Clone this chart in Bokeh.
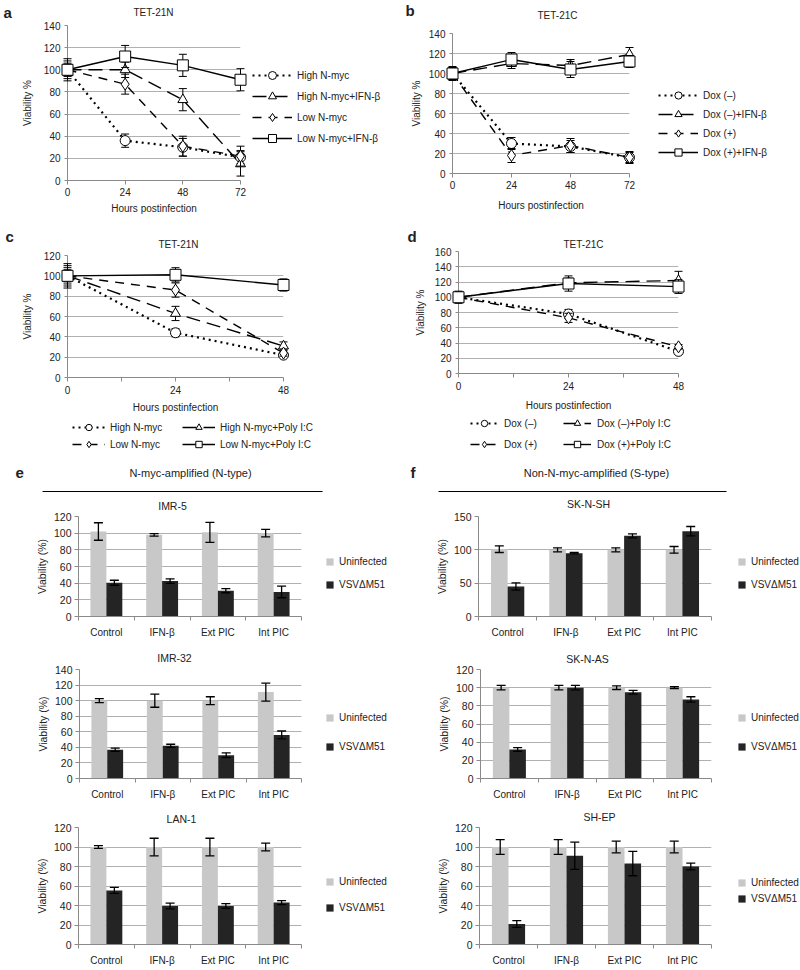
from bokeh.plotting import figure
from bokeh.models import (Range1d, FixedTicker, Legend, LegendItem, Label, Whisker,
                          TeeHead, ColumnDataSource)
from bokeh.layouts import column, row
from bokeh.transform import dodge
from bokeh.core.properties import value
from bokeh.embed import file_html
from bokeh.resources import INLINE

NAN = float("nan")

# ---------------- data ----------------
HOURS_72 = [0, 24, 48, 72]
HOURS_48 = [0, 24, 48]

# panel a : TET-21N, IFN-beta
A_LABELS = ["High N-myc", "High N-myc+IFN-β", "Low N-myc", "Low N-myc+IFN-β"]
A_HIGH = [100, 36, 30, 21]
A_HIGH_ERR = [8, 6, 8, 6]
A_HIGH_IFN = [100, 100, 73, 15]
A_HIGH_IFN_ERR = [6, 7, 10, 11]
A_LOW = [100, 87, 31, 22]
A_LOW_ERR = [10, 9, 9, 9]
A_LOW_IFN = [100, 112, 104, 91]
A_LOW_IFN_ERR = [5, 10, 10, 10]

# panel b : TET-21C, IFN-beta
B_LABELS = ["Dox (–)", "Dox (–)+IFN-β", "Dox (+)", "Dox (+)+IFN-β"]
B_DM = [100, 30, 27, 16]
B_DM_ERR = [5, 6, 6, 6]
B_DM_IFN = [100, 110, 108, 119]
B_DM_IFN_ERR = [6, 5, 6, 7]
B_DP = [100, 18, 28, 16]
B_DP_ERR = [6, 7, 7, 5]
B_DP_IFN = [100, 114, 104, 112]
B_DP_IFN_ERR = [7, 7, 8, 6]

# panel c : TET-21N, Poly I:C
C_LABELS = ["High N-myc", "High N-myc+Poly I:C", "Low N-myc", "Low N-myc+Poly I:C"]
C_HIGH = [100, 44, 22]
C_HIGH_ERR = [8, 4, 2]
C_HIGH_PIC = [100, 63, 31]
C_HIGH_PIC_ERR = [10, 7, 4]
C_LOW = [100, 86, 24]
C_LOW_ERR = [12, 7, 3]
C_LOW_PIC = [100, 101, 91]
C_LOW_PIC_ERR = [6, 7, 6]

# panel d : TET-21C, Poly I:C
D_LABELS = ["Dox (–)", "Dox (–)+Poly I:C", "Dox (+)", "Dox (+)+Poly I:C"]
D_DM = [100, 78, 29]
D_DM_ERR = [6, 6, 3]
D_DM_PIC = [100, 119, 122]
D_DM_PIC_ERR = [7, 6, 12]
D_DP = [100, 73, 35]
D_DP_ERR = [8, 6, 3]
D_DP_PIC = [100, 118, 114]
D_DP_PIC_ERR = [6, 10, 9]

# panels e / f : bar charts
TREATMENTS = ["Control", "IFN-β", "Ext PIC", "Int PIC"]
BAR_SERIES = ["Uninfected", "VSVΔM51"]

IMR5_U = [102, 98, 101, 100]
IMR5_U_ERR = [10.5, 1.5, 12, 4.5]
IMR5_V = [40.5, 42.5, 31, 29.5]
IMR5_V_ERR = [3, 2.7, 2.5, 7]

IMR32_U = [100, 100, 100, 111]
IMR32_U_ERR = [2.5, 8.5, 5, 11.5]
IMR32_V = [37, 42, 30, 56]
IMR32_V_ERR = [2, 2, 3, 5]

LAN1_U = [100, 100, 100, 100]
LAN1_U_ERR = [1.5, 9, 9, 4]
LAN1_V = [55.5, 39.5, 39.5, 43]
LAN1_V_ERR = [3, 3, 2.5, 2]

SKNSH_U = [101, 100, 100, 100]
SKNSH_U_ERR = [5, 3, 3, 5]
SKNSH_V = [45, 95, 121, 128]
SKNSH_V_ERR = [5.5, 1, 3, 7]

SKNAS_U = [100, 100, 100, 100]
SKNAS_U_ERR = [2.5, 2.5, 2, 1]
SKNAS_V = [32, 100, 95, 87]
SKNAS_V_ERR = [2, 2.5, 2, 3]

SHEP_U = [100, 100, 100, 100]
SHEP_U_ERR = [7.5, 7.5, 6, 6]
SHEP_V = [21, 91, 83, 80]
SHEP_V_ERR = [3.5, 14, 12.5, 3.5]

# ---------------- styles ----------------
FONT = "Liberation Sans"
AX = "#8a8a8a"
GRID = "#b0b0b0"
TXT = "#222222"
GRAY_BAR = "#c8c8c8"
DARK_BAR = "#242424"
BAR_COLORS = [GRAY_BAR, DARK_BAR]
# marker, dash, line width, marker size
LINE_STYLES = [("circle", "2 4", 2.2, 10), ("triangle", "14 7", 1.4, 10),
               ("diamond", "9 7", 1.4, 12), ("square", "solid", 1.4, 11)]


def make_fig(W, H, ml, mt, fw, fh, xr, yr, **kw):
    return figure(width=W, height=H, x_range=xr, y_range=yr,
                  output_backend="svg", toolbar_location=None, frame_align=False,
                  min_border_left=ml, min_border_top=mt,
                  min_border_right=W - ml - fw, min_border_bottom=H - mt - fh, **kw)


def blank_fig(W, H, xr, yr):
    p = make_fig(W, H, 0, 0, W, H, xr, yr, x_axis_location=None, y_axis_location=None)
    p.xgrid.visible = False
    p.ygrid.visible = False
    p.outline_line_color = None
    return p


def style_axes(p, fs="10px"):
    for ax in p.axis:
        ax.axis_line_color = AX
        ax.major_tick_line_color = AX
        ax.minor_tick_line_color = AX
        ax.major_label_text_font = FONT
        ax.major_label_text_font_size = fs
        ax.major_label_text_color = TXT
        ax.axis_label_text_font = FONT
        ax.axis_label_text_font_style = "normal"
        ax.axis_label_text_font_size = fs
        ax.axis_label_text_color = TXT
        ax.major_tick_in = 0
        ax.minor_tick_in = 0
        ax.minor_tick_out = 0
    p.xgrid.visible = False
    p.ygrid.grid_line_color = GRID
    p.outline_line_color = None


def put_text(p, geo, px, py, text, size="10px", bold=False, align="center"):
    """Text outside the frame, placed at figure pixel (px, py) through the plot scales."""
    ml, mt, fw, fh, (x0, x1), (y0, y1) = geo
    x = x0 + (px - ml) / fw * (x1 - x0)
    y = y0 + (mt + fh - py) / fh * (y1 - y0)
    p.text(x=[x], y=[y], text=[text], text_font=value(FONT), text_font_size=size,
           text_font_style="bold" if bold else "normal", text_color=TXT,
           text_align=align, text_baseline="middle", level="overlay")


def line_legend_fig(W, H, labels, loc, order, **opts):
    p = blank_fig(W, H, Range1d(0, 1), Range1d(0, 1))
    items = []
    for lab, (marker, dash, lw, ms) in zip(labels, LINE_STYLES):
        rl = p.line(x=[NAN], y=[NAN], line_color="black", line_width=lw, line_dash=dash)
        rm = p.scatter(x=[NAN], y=[NAN], marker=marker, size=ms, fill_color="white",
                       line_color="black", line_width=1)
        items.append(LegendItem(label=lab, renderers=[rl, rm]))
    items = [items[i] for i in order]
    p.add_layout(Legend(items=items, location=loc, padding=0, margin=0,
                        background_fill_alpha=0, border_line_color=None,
                        label_text_font=FONT, label_text_font_size="10px",
                        label_text_color=TXT, **opts))
    return p


def bar_legend_fig(W, H, loc, spacing):
    p = blank_fig(W, H, Range1d(0, 1), Range1d(0, 1))
    items = []
    for lab, col in zip(BAR_SERIES, BAR_COLORS):
        r = p.vbar(x=[NAN], top=[NAN], width=0.5, fill_color=col, line_color=None)
        items.append(LegendItem(label=lab, renderers=[r]))
    p.add_layout(Legend(items=items, location=loc, padding=0, margin=0, spacing=spacing,
                        glyph_width=9, glyph_height=9, label_height=12, label_standoff=5,
                        background_fill_alpha=0, border_line_color=None,
                        label_text_font=FONT, label_text_font_size="10px",
                        label_text_color=TXT))
    return p


def line_panel(W, H, ml, mt, fw, fh, hours, ymax, ystep, xminor, vals, errs,
               letter, letter_xy, title, title_xy, lab_standoff, axlab_standoff, ylab_standoff):
    xr, yr = (hours[0], hours[-1]), (0, ymax)
    geo = (ml, mt, fw, fh, xr, yr)
    p = make_fig(W, H, ml, mt, fw, fh, Range1d(*xr), Range1d(*yr))
    style_axes(p)
    p.yaxis.ticker = FixedTicker(ticks=list(range(0, ymax + 1, ystep)))
    p.xaxis.ticker = FixedTicker(ticks=hours, minor_ticks=xminor)
    p.xaxis.major_tick_out = 4
    p.xaxis.minor_tick_out = 4 if xminor else 0
    p.yaxis.major_tick_out = 3
    p.yaxis.major_label_standoff = 4
    p.xaxis.major_label_standoff = lab_standoff
    p.xaxis.axis_label = "Hours postinfection"
    p.yaxis.axis_label = "Viability %"
    p.xaxis.axis_label_standoff = axlab_standoff
    p.yaxis.axis_label_standoff = ylab_standoff
    for v, e, (marker, dash, lw, ms) in zip(vals, errs, LINE_STYLES):
        src = ColumnDataSource(dict(x=hours, y=v,
                                    lo=[a - b for a, b in zip(v, e)],
                                    hi=[a + b for a, b in zip(v, e)]))
        p.line("x", "y", source=src, line_color="black", line_width=lw, line_dash=dash)
        p.segment(x0="x", y0="lo", x1="x", y1="hi", source=src, line_color="black",
                  line_width=1, level="overlay")
        p.scatter("x", "lo", source=src, marker="dash", size=8, line_color="black",
                  line_width=1, level="overlay")
        p.scatter("x", "hi", source=src, marker="dash", size=8, line_color="black",
                  line_width=1, level="overlay")
        p.scatter("x", "y", source=src, marker=marker, size=ms, fill_color="white",
                  line_color="black", line_width=1, level="overlay")
    put_text(p, geo, letter_xy[0], letter_xy[1], letter, size="15px", bold=True, align="left")
    put_text(p, geo, title_xy[0], title_xy[1], title)
    return p


def bar_panel(W, H, ml, mt, fw, fh, ymax, ystep, U, Ue, V, Ve, title, title_xy):
    n = len(TREATMENTS)
    xr, yr = (0, n), (0, ymax)
    geo = (ml, mt, fw, fh, xr, yr)
    p = make_fig(W, H, ml, mt, fw, fh, Range1d(*xr), Range1d(*yr))
    style_axes(p, fs="10.5px")
    centers = [i + 0.5 for i in range(n)]
    p.xaxis.ticker = FixedTicker(ticks=centers, minor_ticks=list(range(n + 1)))
    p.xaxis.major_label_overrides = {c: t for c, t in zip(centers, TREATMENTS)}
    p.xaxis.major_label_text_font_size = "10px"
    p.xaxis.major_tick_out = 0
    p.xaxis.minor_tick_out = 4
    p.xaxis.major_label_standoff = 6
    p.yaxis.ticker = FixedTicker(ticks=list(range(0, ymax + 1, ystep)))
    p.yaxis.major_tick_out = 4
    p.yaxis.major_label_standoff = 3
    p.yaxis.axis_label = "Viability (%)"
    p.yaxis.axis_label_standoff = 3
    src = ColumnDataSource(dict(
        x=centers, u=U, v=V,
        ulo=[a - b for a, b in zip(U, Ue)], uhi=[a + b for a, b in zip(U, Ue)],
        vlo=[a - b for a, b in zip(V, Ve)], vhi=[a + b for a, b in zip(V, Ve)]))
    off = 0.143
    p.vbar(x=dodge("x", -off, range=p.x_range), top="u", width=0.286, source=src,
           fill_color=GRAY_BAR, line_color=None)
    p.vbar(x=dodge("x", off, range=p.x_range), top="v", width=0.286, source=src,
           fill_color=DARK_BAR, line_color=None)
    for base, lo, hi in ((dodge("x", -off, range=p.x_range), "ulo", "uhi"),
                         (dodge("x", off, range=p.x_range), "vlo", "vhi")):
        p.add_layout(Whisker(source=src, base=base, lower=lo, upper=hi,
                             line_color="black", line_width=1.3, level="annotation",
                             upper_head=TeeHead(size=9, line_color="black", line_width=1.3),
                             lower_head=TeeHead(size=9, line_color="black", line_width=1.3)))
    put_text(p, geo, title_xy[0], title_xy[1], title, size="10.5px")
    return p


def header_panel(W, H, line_x0, line_x1, line_y, text, text_x, text_y, letter, letter_x):
    p = blank_fig(W, H, Range1d(0, W), Range1d(H, 0))
    p.segment(x0=[line_x0], y0=[line_y], x1=[line_x1], y1=[line_y],
              line_color="black", line_width=1.2)
    p.add_layout(Label(x=text_x, y=text_y, text=text, text_font=FONT, text_font_size="11px",
                       text_color=TXT, text_align="center", text_baseline="middle"))
    p.add_layout(Label(x=letter_x, y=text_y, text=letter, text_font=FONT,
                       text_font_size="15px", text_font_style="bold", text_color=TXT,
                       text_align="left", text_baseline="middle"))
    return p


# ---------------- row 1 (a, b) ----------------
fa = line_panel(250, 216, 67, 25, 173, 157, HOURS_72, 140, 20, [],
                [A_HIGH, A_HIGH_IFN, A_LOW, A_LOW_IFN],
                [A_HIGH_ERR, A_HIGH_IFN_ERR, A_LOW_ERR, A_LOW_IFN_ERR],
                "a", (3, 12), "TET-21N", (153, 12), 3, 4, 8)
la = line_legend_fig(150, 216, A_LABELS, (2, 68), [0, 1, 2, 3],
                     glyph_width=40, glyph_height=20, label_height=20, spacing=1,
                     label_standoff=5)
fb = line_panel(240, 216, 52, 33, 177, 140, HOURS_72, 140, 20, [],
                [B_DM, B_DM_IFN, B_DP, B_DP_IFN],
                [B_DM_ERR, B_DM_IFN_ERR, B_DP_ERR, B_DP_IFN_ERR],
                "b", (5, 10), "TET-21C", (157, 15), 3, 8, 4)
lb = line_legend_fig(160, 216, B_LABELS, (18, 55), [0, 1, 2, 3],
                     glyph_width=40, glyph_height=18, label_height=18, spacing=1,
                     label_standoff=5)

# ---------------- row 2 (c, d) ----------------
fc = line_panel(400, 200, 67, 39, 216, 122, HOURS_48, 120, 20, [12, 36],
                [C_HIGH, C_HIGH_PIC, C_LOW, C_LOW_PIC],
                [C_HIGH_ERR, C_HIGH_PIC_ERR, C_LOW_ERR, C_LOW_PIC_ERR],
                "c", (5, 20), "TET-21N", (178, 28), 4, 5, 8)
lc = line_legend_fig(400, 36, C_LABELS, (72, 0), [0, 2, 1, 3],
                     glyph_width=33, glyph_height=16, label_height=16, spacing=1,
                     label_standoff=5, label_width=71, nrows=2)
fd = line_panel(400, 197, 58, 35, 220, 123, HOURS_48, 160, 20, [12, 36],
                [D_DM, D_DM_PIC, D_DP, D_DP_PIC],
                [D_DM_ERR, D_DM_PIC_ERR, D_DP_ERR, D_DP_PIC_ERR],
                "d", (7, 20), "TET-21C", (183, 28), 4, 7, 6)
ld = line_legend_fig(400, 39, D_LABELS, (70, 0), [0, 2, 1, 3],
                     glyph_width=28, glyph_height=16, label_height=16, spacing=5,
                     label_standoff=6, label_width=54, nrows=2)

# ---------------- row 3 (headers e, f) ----------------
he = header_panel(400, 42, 42, 322, 39, "N-myc-amplified (N-type)", 190, 20, "e", 15)
hf = header_panel(400, 42, 38, 326, 39, "Non-N-myc-amplified (S-type)", 196, 20, "f", 10)

# ---------------- rows 4-6 (bar charts) ----------------
e1 = bar_panel(315, 146, 78, 22, 223, 102, 120, 20, IMR5_U, IMR5_U_ERR, IMR5_V, IMR5_V_ERR,
               "IMR-5", (172, 11))
le1 = bar_legend_fig(85, 146, (10, 50), 11)
f1 = bar_panel(320, 146, 78, 22, 233, 102, 150, 50, SKNSH_U, SKNSH_U_ERR, SKNSH_V, SKNSH_V_ERR,
               "SK-N-SH", (188, 9))
lf1 = bar_legend_fig(80, 146, (17, 50), 11)

e2 = bar_panel(315, 166, 79, 29, 222, 109, 140, 20, IMR32_U, IMR32_U_ERR, IMR32_V, IMR32_V_ERR,
               "IMR-32", (174, 17))
le2 = bar_legend_fig(85, 166, (10, 54), 17)
f2 = bar_panel(320, 166, 80, 29, 231, 109, 120, 20, SKNAS_U, SKNAS_U_ERR, SKNAS_V, SKNAS_V_ERR,
               "SK-N-AS", (187, 18))
lf2 = bar_legend_fig(80, 166, (17, 54), 17)

e3 = bar_panel(315, 162, 78, 21, 223, 121, 120, 20, LAN1_U, LAN1_U_ERR, LAN1_V, LAN1_V_ERR,
               "LAN-1", (181, 12))
le3 = bar_legend_fig(85, 162, (10, 55), 14)
f3 = bar_panel(320, 162, 79, 21, 232, 121, 120, 20, SHEP_U, SHEP_U_ERR, SHEP_V, SHEP_V_ERR,
               "SH-EP", (199, 10))
lf3 = bar_legend_fig(80, 162, (17, 64), 4)

layout = column(
    row(fa, la, fb, lb),
    row(column(fc, lc), column(fd, ld)),
    row(he, hf),
    row(e1, le1, f1, lf1),
    row(e2, le2, f2, lf2),
    row(e3, le3, f3, lf3),
)

open("out.html", "w").write(file_html(layout, INLINE))
